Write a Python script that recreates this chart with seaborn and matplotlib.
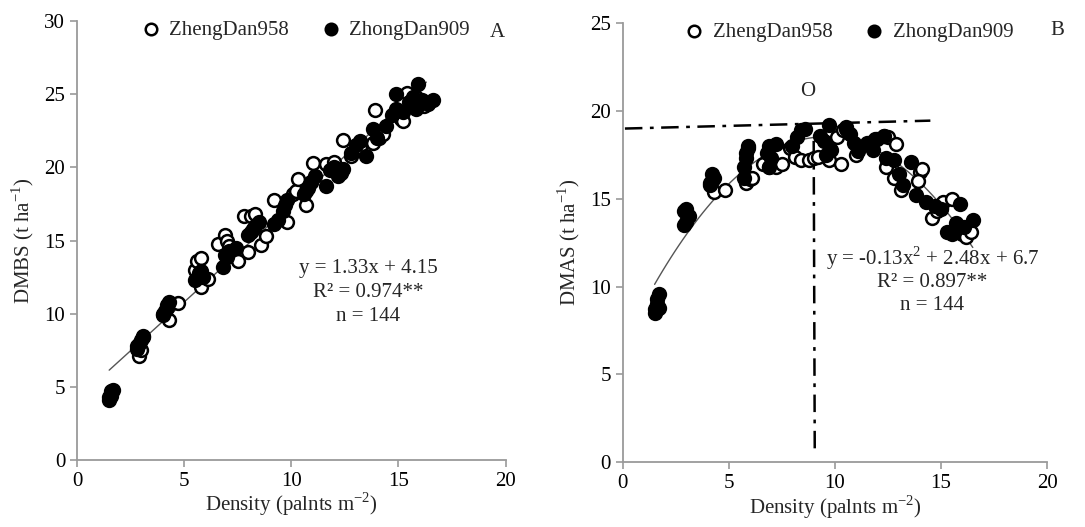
import numpy as np
import pandas as pd
import matplotlib
matplotlib.use("Agg")
import matplotlib.pyplot as plt
import seaborn as sns

# panel A: dry matter before silking (DMBS)
a_zd958_x = [2.9, 3.0, 4.3, 4.7, 5.5, 5.6, 5.8, 5.8, 6.1, 5.7, 6.6, 6.9, 7.0, 7.1, 7.5,
             7.8, 8.1, 8.3, 8.0, 8.6, 8.8, 9.2, 9.8, 10.1, 10.2, 10.3, 10.7, 11.0, 10.9,
             11.6, 12.0, 12.4, 12.2, 12.8, 13.2, 13.9, 13.8, 14.1, 14.3, 15.1, 15.2,
             15.4, 15.8, 16.2, 15.6]
a_zd958_y = [7.1, 7.5, 9.6, 10.7, 13.0, 13.6, 13.8, 11.8, 12.4, 12.8, 14.8, 15.4, 15.0, 14.6, 13.6,
             16.7, 16.7, 16.8, 14.2, 14.7, 15.3, 17.8, 16.3, 18.2, 18.4, 19.2, 17.4, 20.3, 19.0,
             20.2, 20.4, 21.9, 19.8, 20.8, 21.4, 23.9, 21.7, 22.0, 22.3, 23.3, 23.2,
             25.1, 24.8, 24.2, 24.5]
a_zd909_x = [1.5, 1.5, 1.6, 1.6, 1.7, 1.6, 2.8, 2.9, 3.0, 3.1, 2.8, 3.1, 4.0, 4.1, 4.2, 4.3,
             4.0, 4.2, 5.5, 5.7, 5.8, 5.9, 6.8, 6.9, 7.1, 7.4, 7.0, 8.0, 8.1, 8.3, 8.5, 8.2,
             9.2, 9.4, 9.6, 9.7, 9.8, 10.6, 10.8, 10.9, 11.1, 10.7, 11.6, 11.8, 12.0, 12.2,
             12.4, 12.3, 12.8, 13.0, 13.2, 13.5, 13.8, 14.0, 14.4, 14.7, 14.9, 14.9, 15.2,
             15.5, 15.7, 15.9, 15.8, 16.1, 16.6, 16.4]
a_zd909_y = [4.1, 4.3, 4.5, 4.7, 4.8, 4.4, 7.6, 7.9, 8.2, 8.5, 7.8, 8.4, 10.0, 10.2, 10.6, 10.8,
             9.9, 10.4, 12.3, 12.6, 12.9, 12.5, 13.2, 14.0, 14.3, 14.5, 13.9, 15.4, 15.6, 16.0, 16.3, 15.8,
             16.1, 16.4, 17.0, 17.4, 17.8, 18.2, 18.6, 19.0, 19.4, 18.4, 18.7, 19.8, 20.0, 19.4,
             19.9, 19.6, 21.0, 21.5, 21.8, 20.8, 22.6, 22.0, 22.8, 23.6, 24.0, 25.0, 23.8,
             24.5, 24.8, 25.7, 24.0, 24.6, 24.6, 24.3]

# panel B: dry matter after silking (DMAS)
b_zd958_x = [4.3, 4.8, 5.8, 6.0, 6.1, 6.6, 6.9, 7.2, 7.5, 7.9, 8.1, 8.4, 8.8, 9.0, 9.2,
             9.7, 10.3, 10.1, 10.4, 10.5, 11.0, 11.6, 11.9, 12.3, 12.5, 12.4, 12.8, 12.9,
             13.1, 14.0, 14.1, 13.9, 14.6, 14.8, 15.0, 15.1, 15.5, 16.0, 16.2, 16.4]
b_zd958_y = [15.4, 15.5, 15.9, 16.1, 16.2, 17.0, 16.8, 16.8, 17.0, 17.9, 17.4, 17.2, 17.2, 17.3, 17.4,
             17.2, 17.0, 18.5, 18.9, 19.0, 17.5, 18.2, 18.4, 18.6, 18.5, 16.8, 16.2, 18.1,
             15.5, 16.5, 16.7, 16.0, 13.9, 14.3, 14.5, 14.8, 15.0, 13.0, 12.8, 13.1]
b_zd909_x = [1.5, 1.5, 1.6, 1.6, 1.7, 1.7, 2.9, 3.0, 3.1, 2.9, 3.0, 4.1, 4.2, 4.3, 4.2, 4.1,
             5.7, 5.8, 5.8, 5.9, 5.9, 5.7, 6.8, 6.9, 7.2, 6.9, 7.0, 8.0, 8.2, 8.4, 8.6,
             9.3, 9.7, 9.5, 9.8, 9.6, 10.5, 10.7, 10.9, 11.1, 11.5, 11.7, 12.0, 11.8, 12.3,
             12.4, 12.8, 13.0, 13.2, 13.6, 13.8, 14.3, 14.7, 15.0, 15.3, 15.5, 15.7, 15.9,
             16.1, 16.5]
b_zd909_y = [8.5, 8.7, 9.0, 9.3, 9.6, 8.8, 13.5, 13.7, 14.0, 14.3, 14.4, 15.8, 16.0, 16.2, 16.4, 15.9,
             16.8, 17.3, 17.6, 17.9, 18.0, 16.2, 17.6, 18.0, 18.1, 16.8, 17.3, 18.0, 18.5, 18.9, 19.0,
             18.6, 19.2, 18.3, 17.8, 17.5, 19.1, 18.7, 18.2, 17.7, 18.2, 18.0, 18.4, 17.8, 18.6,
             17.3, 17.2, 16.4, 15.8, 17.1, 15.2, 14.8, 14.6, 14.4, 13.1, 13.0, 13.6, 14.7,
             13.4, 13.8]

# fitted models
fit_a = [1.33, 4.15]            # slope, intercept
fit_b = [-0.13, 2.48, 6.7]      # quadratic coefficients
x_opt = 9.0

sns.set_style("ticks")
plt.rcParams['font.family'] = ['Liberation Serif', 'DejaVu Serif']
plt.rcParams['mathtext.fontset'] = 'custom'
plt.rcParams['mathtext.rm'] = 'Liberation Serif'

fig = plt.figure(figsize=(10.85, 5.27), dpi=100)
axA = fig.add_axes([0.071, 0.127, 0.395, 0.833])
axB = fig.add_axes([0.574, 0.123, 0.391, 0.833])

ms = 85
lw = 1.8
fs = 15


def draw_points(ax, ox, oy, fx, fy):
    sns.scatterplot(x=ox, y=oy, ax=ax, color='white', edgecolor='black', linewidth=lw,
                    s=ms, label='ZhengDan958', zorder=3)
    sns.scatterplot(x=fx, y=fy, ax=ax, color='black', edgecolor='black', linewidth=lw,
                    s=ms, label='ZhongDan909', zorder=3)


def style_axis(ax, ymax):
    sns.despine(ax=ax)
    for s in ['left', 'bottom']:
        ax.spines[s].set_color('#9a9a9a')
        ax.spines[s].set_linewidth(1.3)
    ax.tick_params(colors='#9a9a9a', labelcolor='black', labelsize=fs, length=5, width=1.2)
    ax.set_xlim(0, 20)
    ax.set_ylim(0, ymax)
    ax.set_xticks([0, 5, 10, 15, 20])
    ax.set_xlabel('Density (palnts m$^{-2}$)', fontsize=fs, labelpad=0)
    ax.legend(loc='upper center', bbox_to_anchor=(0.52, 1.045), ncol=2, frameon=False,
              fontsize=fs, handletextpad=-0.1, columnspacing=1.0, markerscale=0.9)


# panel A
draw_points(axA, a_zd958_x, a_zd958_y, a_zd909_x, a_zd909_y)
xa = np.linspace(1.5, 16.3, 50)
sns.lineplot(x=xa, y=np.polyval(fit_a, xa), ax=axA, color='#555555', linewidth=1.0, zorder=2)
style_axis(axA, 30)
axA.set_yticks([0, 5, 10, 15, 20, 25, 30])
axA.set_ylabel('DMBS (t ha$^{-1}$)', fontsize=fs, labelpad=6)
axA.text(19.6, 29.2, 'A', fontsize=fs, ha='center', va='center')
axA.text(13.6, 13.1, 'y = 1.33x + 4.15', fontsize=fs, ha='center', va='center')
axA.text(13.6, 11.45, 'R² = 0.974**', fontsize=fs, ha='center', va='center')
axA.text(13.6, 9.8, 'n = 144', fontsize=fs, ha='center', va='center')

# panel B
draw_points(axB, b_zd958_x, b_zd958_y, b_zd909_x, b_zd909_y)
xb = np.linspace(1.5, 16.5, 80)
sns.lineplot(x=xb, y=np.polyval(fit_b, xb), ax=axB, color='#555555', linewidth=1.0, zorder=2)
dd = (7, 3, 1.5, 3)
axB.plot([0.1, 14.5], [19.0, 19.45], color='black', linewidth=1.8, dashes=dd, zorder=1)
axB.plot([x_opt, x_opt + 0.05], [18.3, 0.5], color='black', linewidth=1.8, dashes=dd, zorder=1)
style_axis(axB, 25)
axB.set_yticks([0, 5, 10, 15, 20, 25])
axB.set_ylabel('DMAS (t ha$^{-1}$)', fontsize=fs, labelpad=6)
axB.text(20.5, 24.6, 'B', fontsize=fs, ha='center', va='center', clip_on=False)
axB.text(8.7, 21.1, 'O', fontsize=fs, ha='center', va='center')
axB.text(14.6, 11.6, 'y = -0.13x$^2$ + 2.48x + 6.7', fontsize=fs, ha='center', va='center')
axB.text(14.6, 10.25, 'R² = 0.897**', fontsize=fs, ha='center', va='center')
axB.text(14.6, 8.9, 'n = 144', fontsize=fs, ha='center', va='center')

fig.savefig('out.png', dpi=100)
